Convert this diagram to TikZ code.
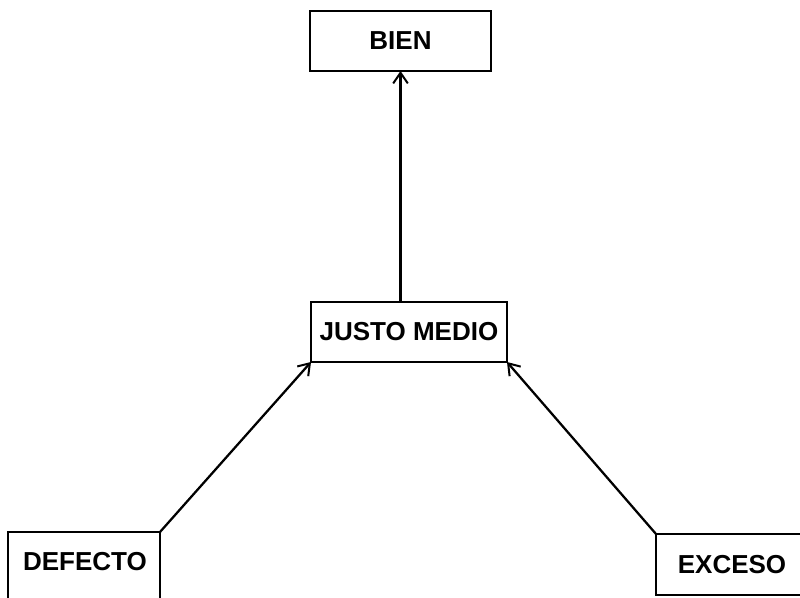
\documentclass[tikz,border=0pt]{standalone}
\usepackage{fontspec}
\setmainfont{Liberation Sans}
\usetikzlibrary{arrows.meta}
\begin{document}
\begin{tikzpicture}[x=0.75pt,y=-0.75pt,
  box/.style={draw,line width=1.8pt,inner sep=0pt,outer sep=0pt,font=\fontsize{19.5}{22}\selectfont\bfseries},
  lbl/.style={inner sep=0pt,font=\fontsize{19.5}{22}\selectfont\bfseries},
  conn/.style={line width=1.7pt,-{Straight Barb[length=8pt,width=11pt,line width=1.5pt]}}]
\useasboundingbox (0,0) rectangle (800,598);
\clip (0,0) rectangle (800,598);
\fill[white] (0,0) rectangle (800,598);
\node[box,minimum width=135.75pt,minimum height=45pt] (bien) at (400.5,41) {BIEN};
\node[box,minimum width=147pt,minimum height=45pt] (jm) at (409,332) {JUSTO MEDIO};
\node[box,minimum width=114pt,minimum height=45.75pt] (exceso) at (732,564.5) {EXCESO};
\node[lbl] (defecto) at (85,562) {DEFECTO};
\coordinate (dtr) at (160,532);
\coordinate (dtl) at (8,532);
\draw[line width=1.8pt] (8,610) -- (dtl) -- (dtr) -- (160,610);
\draw[conn] (jm.north -| bien.south) -- (bien.south);
\draw[conn] (dtr) -- (jm.south west);
\draw[conn] (exceso.north west) -- (jm.south east);
\end{tikzpicture}
\end{document}
